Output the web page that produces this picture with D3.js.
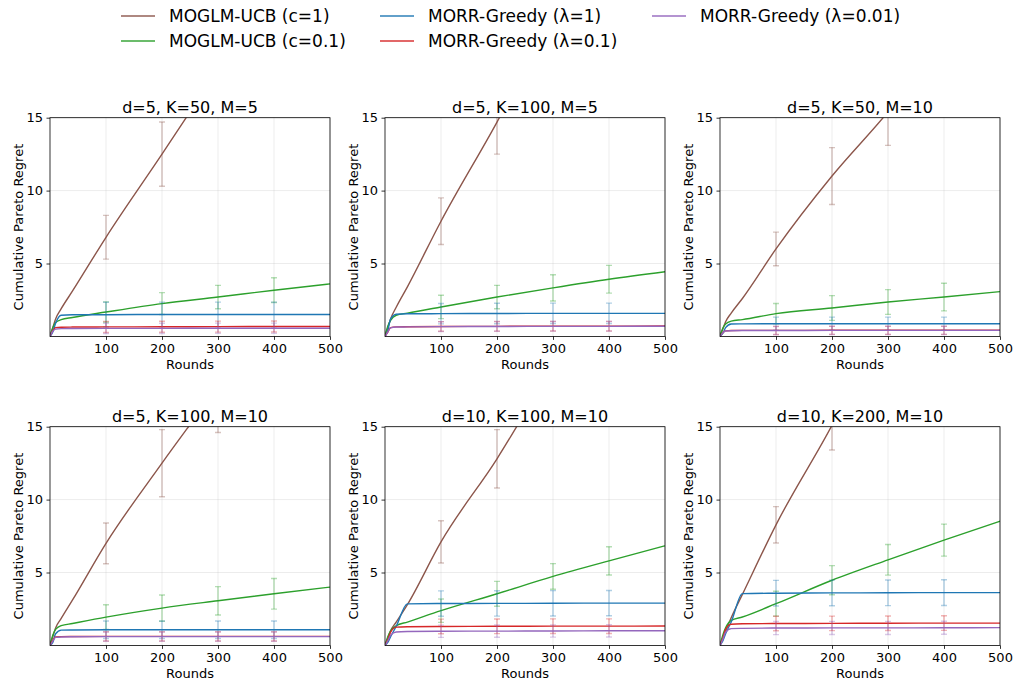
<!DOCTYPE html>
<html>
<head>
<meta charset="utf-8">
<script src="https://cdn.jsdelivr.net/npm/d3@7"></script>
<style>
  body { margin: 0; background: #fff; }
  svg { font-family: "DejaVu Sans", sans-serif; }
</style>
</head>
<body>
<svg id="chart" width="1016" height="682"></svg>
<script>
// data
const panelTitles = ["d=5, K=50, M=5", "d=5, K=100, M=5", "d=5, K=50, M=10",
                     "d=5, K=100, M=10", "d=10, K=100, M=10", "d=10, K=200, M=10"];
const seriesNames = ["MOGLM-UCB (c=1)", "MOGLM-UCB (c=0.1)", "MORR-Greedy (λ=1)",
                     "MORR-Greedy (λ=0.1)", "MORR-Greedy (λ=0.01)"];
const seriesColors = ["#8c564b", "#2ca02c", "#1f77b4", "#d62728", "#9467bd"];
const rounds = [0, 5, 10, 20, 40, 100, 200, 300, 400, 500];
const errRounds = [100, 200, 300, 400];
const xTicks = [100, 200, 300, 400, 500];
const yTicks = [5, 10, 15];

// one row per panel
const ucb1Mean = [
  [0, 0.6, 1.2, 1.9, 3.1, 6.8, 12.5, 18.3, 24.0, 29.7],
  [0, 0.6, 1.2, 2.0, 3.4, 7.9, 14.7, 22.0, 29.5, 37.0],
  [0, 0.5, 1.0, 1.6, 2.6, 6.0, 11.0, 15.4, 20.4, 25.4],
  [0, 0.6, 1.2, 1.85, 3.1, 7.0, 12.5, 17.8, 23.5, 29.0],
  [0, 0.5, 1.0, 1.6, 2.8, 7.1, 12.8, 19.2, 25.5, 31.8],
  [0, 0.5, 1.0, 1.9, 3.5, 8.27, 15.1, 22.8, 30.5, 38.2]
];
const ucb1Err = [
  [1.5, 2.2, 2.8, 3.4], [1.6, 2.2, 2.8, 3.4], [1.15, 1.95, 2.3, 2.8],
  [1.4, 2.3, 3.2, 3.6], [1.45, 2.0, 2.5, 3.0], [1.25, 1.7, 2.2, 2.6]
];
const ucb01Mean = [
  [0, 0.6, 0.95, 1.15, 1.3, 1.67, 2.25, 2.7, 3.17, 3.6],
  [0, 0.7, 1.1, 1.45, 1.6, 2.02, 2.7, 3.33, 3.92, 4.43],
  [0, 0.55, 0.85, 1.05, 1.15, 1.56, 1.95, 2.36, 2.7, 3.07],
  [0, 0.7, 1.1, 1.35, 1.5, 1.94, 2.56, 3.06, 3.54, 4.0],
  [0, 0.6, 1.0, 1.35, 1.6, 2.38, 3.54, 4.73, 5.8, 6.83],
  [0, 0.7, 1.2, 1.71, 1.95, 2.86, 4.47, 5.87, 7.22, 8.52]
];
const ucb01Err = [
  [0.7, 0.75, 0.8, 0.85], [0.8, 0.8, 0.9, 0.95], [0.7, 0.85, 0.85, 0.95],
  [0.85, 0.9, 0.97, 1.05], [0.8, 0.85, 0.88, 0.97], [0.85, 1.0, 1.05, 1.1]
];
const greedy1Mean = [
  [0, 0.3, 0.9, 1.45, 1.48, 1.49, 1.5, 1.5, 1.5, 1.5],
  [0, 0.4, 1.2, 1.52, 1.55, 1.56, 1.57, 1.58, 1.58, 1.58],
  [0, 0.2, 0.6, 0.85, 0.86, 0.87, 0.87, 0.87, 0.87, 0.87],
  [0, 0.2, 0.8, 1.05, 1.06, 1.07, 1.07, 1.07, 1.07, 1.07],
  [0, 0.2, 0.6, 1.3, 2.85, 2.87, 2.88, 2.89, 2.9, 2.9],
  [0, 0.3, 0.8, 1.6, 3.55, 3.58, 3.6, 3.61, 3.62, 3.62]
];
const greedy1Err = [
  [0.85, 0.85, 0.85, 0.85], [0.7, 0.7, 0.7, 0.7], [0.45, 0.45, 0.45, 0.45],
  [0.6, 0.6, 0.6, 0.6], [0.87, 0.87, 0.87, 0.87], [0.88, 0.88, 0.88, 0.88]
];
const greedy01Mean = [
  [0, 0.4, 0.6, 0.63, 0.64, 0.65, 0.66, 0.67, 0.68, 0.68],
  [0, 0.3, 0.6, 0.65, 0.66, 0.68, 0.69, 0.7, 0.7, 0.71],
  [0, 0.25, 0.38, 0.4, 0.41, 0.41, 0.42, 0.42, 0.42, 0.42],
  [0, 0.35, 0.58, 0.6, 0.61, 0.62, 0.62, 0.62, 0.62, 0.62],
  [0, 0.4, 0.9, 1.25, 1.28, 1.3, 1.31, 1.32, 1.32, 1.33],
  [0, 0.5, 1.1, 1.45, 1.48, 1.5, 1.51, 1.52, 1.53, 1.53]
];
const greedy01Err = [
  [0.38, 0.38, 0.38, 0.38], [0.33, 0.33, 0.33, 0.33], [0.28, 0.28, 0.28, 0.28],
  [0.32, 0.32, 0.32, 0.32], [0.5, 0.5, 0.5, 0.5], [0.5, 0.5, 0.5, 0.5]
];
const greedy001Mean = [
  [0, 0.35, 0.5, 0.53, 0.54, 0.55, 0.55, 0.56, 0.56, 0.56],
  [0, 0.3, 0.58, 0.64, 0.65, 0.67, 0.68, 0.69, 0.69, 0.7],
  [0, 0.25, 0.37, 0.39, 0.4, 0.4, 0.41, 0.41, 0.41, 0.41],
  [0, 0.3, 0.55, 0.58, 0.59, 0.6, 0.6, 0.6, 0.6, 0.6],
  [0, 0.3, 0.7, 0.92, 0.95, 0.97, 0.98, 0.99, 1.0, 1.0],
  [0, 0.4, 0.9, 1.15, 1.17, 1.19, 1.2, 1.2, 1.21, 1.22]
];
const greedy001Err = [
  [0.35, 0.35, 0.35, 0.35], [0.33, 0.33, 0.33, 0.33], [0.28, 0.28, 0.28, 0.28],
  [0.32, 0.32, 0.32, 0.32], [0.42, 0.42, 0.42, 0.42], [0.45, 0.45, 0.45, 0.45]
];

const allMeans = [ucb1Mean, ucb01Mean, greedy1Mean, greedy01Mean, greedy001Mean];
const allErrs = [ucb1Err, ucb01Err, greedy1Err, greedy01Err, greedy001Err];

const svg = d3.select("#chart");

// layout
const colLeft = [50, 385, 720];
const rowTop = [117.7, 426.7];
const pw = 280, ph = 218.7;

const x = d3.scaleLinear().domain([0, 500]).range([0, pw]);
const y = d3.scaleLinear().domain([0, 15]).range([ph, 0]);

const line = d3.line()
  .x((d, i) => x(rounds[i]))
  .y(d => y(d))
  .curve(d3.curveMonotoneX);

panelTitles.forEach((title, p) => {
  const g = svg.append("g")
    .attr("transform", `translate(${colLeft[p % 3]},${rowTop[Math.floor(p / 3)]})`);

  // grid
  g.append("g").selectAll("line").data(xTicks).join("line")
    .attr("x1", d => x(d)).attr("x2", d => x(d))
    .attr("y1", 0).attr("y2", ph)
    .attr("stroke", "#b0b0b0").attr("stroke-opacity", 0.3).attr("stroke-width", 0.8);
  g.append("g").selectAll("line").data(yTicks).join("line")
    .attr("y1", d => y(d)).attr("y2", d => y(d))
    .attr("x1", 0).attr("x2", pw)
    .attr("stroke", "#b0b0b0").attr("stroke-opacity", 0.3).attr("stroke-width", 0.8);

  g.append("clipPath").attr("id", "clip" + p)
    .append("rect").attr("width", pw).attr("height", ph);

  const plot = g.append("g").attr("clip-path", `url(#clip${p})`);

  allMeans.forEach((means, s) => {
    const col = seriesColors[s];
    const m = means[p];
    plot.append("path")
      .datum(m)
      .attr("d", line)
      .attr("fill", "none")
      .attr("stroke", col)
      .attr("stroke-width", 1.4);

    const bars = errRounds.map((r, k) => {
      const mean = m[rounds.indexOf(r)];
      const e = allErrs[s][p][k];
      return { r, lo: mean - e, hi: mean + e };
    });
    const eb = plot.append("g")
      .attr("stroke", col).attr("stroke-opacity", 0.35).attr("stroke-width", 1.4);
    eb.selectAll(".v").data(bars).join("line")
      .attr("x1", d => x(d.r)).attr("x2", d => x(d.r))
      .attr("y1", d => y(d.lo)).attr("y2", d => y(d.hi));
    eb.selectAll(".ct").data(bars).join("line")
      .attr("x1", d => x(d.r) - 3).attr("x2", d => x(d.r) + 3)
      .attr("y1", d => y(d.hi)).attr("y2", d => y(d.hi));
    eb.selectAll(".cb").data(bars).join("line")
      .attr("x1", d => x(d.r) - 3).attr("x2", d => x(d.r) + 3)
      .attr("y1", d => y(d.lo)).attr("y2", d => y(d.lo));
  });

  // axes
  const xa = g.append("g").attr("transform", `translate(0,${ph})`)
    .call(d3.axisBottom(x).tickValues(xTicks).tickSize(3.5).tickPadding(3.5));
  const ya = g.append("g")
    .call(d3.axisLeft(y).tickValues(yTicks).tickSize(3.5).tickPadding(3.5));
  [xa, ya].forEach(a => {
    a.select(".domain").remove();
    a.selectAll("text").attr("font-size", 13).attr("fill", "#000")
      .attr("font-family", "DejaVu Sans");
    a.selectAll("line").attr("stroke", "#000").attr("stroke-width", 0.8);
  });

  g.append("rect").attr("width", pw).attr("height", ph)
    .attr("fill", "none").attr("stroke", "#000").attr("stroke-width", 0.8);

  g.append("text").attr("x", pw / 2).attr("y", -5)
    .attr("text-anchor", "middle").attr("font-size", 16).text(title);
  g.append("text").attr("x", pw / 2).attr("y", ph + 32.5)
    .attr("text-anchor", "middle").attr("font-size", 13).text("Rounds");
  g.append("text")
    .attr("transform", `translate(-27,${ph / 2}) rotate(-90)`)
    .attr("text-anchor", "middle").attr("font-size", 13)
    .text("Cumulative Pareto Regret");
});

// legend, column-major with 3 columns
const legX = [121, 380, 652];
const legY = [16, 41];
seriesNames.forEach((name, i) => {
  const cx = legX[Math.floor(i / 2)], cy = legY[i % 2];
  const lg = svg.append("g").attr("transform", `translate(${cx},${cy})`);
  lg.append("line").attr("x1", 0).attr("x2", 34).attr("y1", 0).attr("y2", 0)
    .attr("stroke", seriesColors[i]).attr("stroke-width", 2).attr("stroke-opacity", 0.7);
  lg.append("text").attr("x", 48).attr("y", 0).attr("dy", "0.35em")
    .attr("font-size", 17).text(name);
});
</script>
</body>
</html>
